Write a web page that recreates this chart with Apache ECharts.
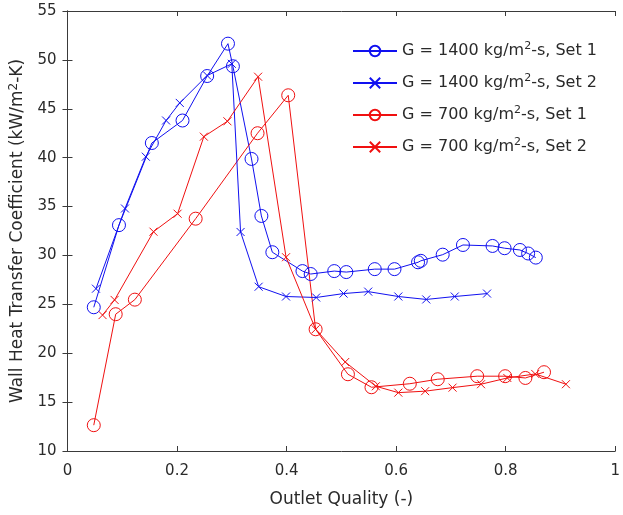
<!DOCTYPE html>
<html><head><meta charset="utf-8">
<script src="https://cdn.jsdelivr.net/npm/echarts@6/dist/echarts.min.js"></script>
<style>html,body{margin:0;padding:0;background:#fff}#c{width:623px;height:515px}</style>
</head><body><div id="c"></div>
<script>
const xTicks = [0, 0.2, 0.4, 0.6, 0.8, 1];
const yTicks = [10, 15, 20, 25, 30, 35, 40, 45, 50, 55];
const g1400s1x = [0.048,0.094,0.154,0.210,0.255,0.293,0.302,0.336,0.354,0.374,0.429,0.444,0.487,0.509,0.561,0.597,0.640,0.645,0.685,0.722,0.776,0.798,0.826,0.841,0.855];
const g1400s1y = [24.7,33.1,41.5,43.8,48.35,51.66,49.35,39.87,34.04,30.33,28.4,28.1,28.4,28.3,28.6,28.6,29.3,29.45,30.08,31.07,30.97,30.74,30.56,30.2,29.78];
const g1400s2x = [0.052,0.105,0.143,0.180,0.205,0.255,0.300,0.316,0.349,0.399,0.454,0.504,0.549,0.604,0.655,0.707,0.766];
const g1400s2y = [26.6,34.8,40.1,43.8,45.6,48.4,49.6,32.4,26.8,25.8,25.7,26.1,26.3,25.8,25.5,25.8,26.1];
const g700s1x = [0.048,0.088,0.123,0.234,0.347,0.403,0.453,0.512,0.555,0.625,0.676,0.748,0.799,0.836,0.870];
const g700s1y = [12.64,23.99,25.48,33.76,42.5,46.38,22.45,17.85,16.52,16.88,17.34,17.65,17.65,17.47,18.06];
const g700s2x = [0.064,0.086,0.157,0.201,0.249,0.292,0.348,0.399,0.453,0.507,0.563,0.604,0.653,0.703,0.755,0.803,0.854,0.910];
const g700s2y = [23.9,25.45,32.43,34.27,42.15,43.72,48.28,29.82,22.45,19.1,16.62,15.97,16.12,16.48,16.83,17.47,17.88,16.83];
const names = ['G = 1400 kg/m2-s, Set 1','G = 1400 kg/m2-s, Set 2','G = 700 kg/m2-s, Set 1','G = 700 kg/m2-s, Set 2'];

const BLUE = '#1010f0', RED = '#f01010';
const CROSS = 'path://M0,0L10,10M10,0L0,10';
const zip = (a, b) => a.map((v, i) => [v, b[i]]);
const font = '"DejaVu Sans", "Liberation Sans", Arial, sans-serif';
const axisCol = '#3a3a3a';
const textCol = '#2a2a2a';

function mk(name, xs, ys, color, cross) {
  return {
    name, type: 'line', data: zip(xs, ys),
    symbol: cross ? CROSS : 'circle',
    symbolSize: cross ? 8 : 13,
    showAllSymbol: true,
    lineStyle: { color, width: 1 },
    itemStyle: { color: 'rgba(0,0,0,0)', borderColor: color, borderWidth: 1 },
    emphasis: { disabled: true },
    animation: false, z: cross ? 3 : 2
  };
}

const chart = echarts.init(document.getElementById('c'), null, { renderer: 'canvas' });
const baseAxis = {
  axisLine: { show: true, lineStyle: { color: axisCol, width: 1 } },
  axisTick: { show: true, inside: true, length: 5, lineStyle: { color: axisCol } },
  splitLine: { show: false }
};
chart.setOption({
  animation: false,
  backgroundColor: '#fff',
  grid: { left: 65, right: 2, top: 11, bottom: 64, containLabel: false },
  xAxis: [
    Object.assign({}, baseAxis, {
      type: 'value', min: 0, max: 1, interval: 0.2, position: 'bottom',
      name: 'Outlet Quality (-)', nameLocation: 'middle', nameGap: 40,
      nameTextStyle: { fontFamily: font, fontSize: 17, color: textCol },
      axisLabel: { fontFamily: font, fontSize: 15, color: textCol, margin: 13,
        formatter: v => (xTicks.includes(+v.toFixed(1)) ? String(+v.toFixed(1)) : '') }
    }),
    Object.assign({}, baseAxis, {
      type: 'value', min: 0, max: 1, interval: 0.2, position: 'top', axisLabel: { show: false }
    })
  ],
  yAxis: [
    Object.assign({}, baseAxis, {
      type: 'value', min: 10, max: 55, interval: 5, position: 'left',
      name: 'Wall Heat Transfer Coefficient (kW/m{sup|2}-K)', nameLocation: 'middle', nameGap: 37,
      nameTextStyle: { fontFamily: font, fontSize: 17, color: textCol,
        rich: { sup: { fontFamily: font, fontSize: 12, color: textCol, verticalAlign: 'top', padding: [0,0,8,0] } } },
      axisLabel: { fontFamily: font, fontSize: 15, color: textCol, margin: 11,
        formatter: v => (yTicks.includes(v) ? String(v) : '') }
    }),
    Object.assign({}, baseAxis, {
      type: 'value', min: 10, max: 55, interval: 5, position: 'right', axisLabel: { show: false }
    })
  ],
  legend: {
    show: true, orient: 'vertical', left: 347, top: 36,
    itemWidth: 44, itemHeight: 13, itemGap: 14,
    textStyle: { fontFamily: font, fontSize: 16, color: textCol,
      rich: { sup: { fontFamily: font, fontSize: 11, color: textCol, padding: [0,0,9,0] } } },
    formatter: n => n.replace('m2-s', 'm{sup|2}-s'),
    data: names
  },
  series: [
    mk(names[0], g1400s1x, g1400s1y, BLUE, false),
    mk(names[1], g1400s2x, g1400s2y, BLUE, true),
    mk(names[2], g700s1x, g700s1y, RED, false),
    mk(names[3], g700s2x, g700s2y, RED, true)
  ]
});
</script></body></html>
